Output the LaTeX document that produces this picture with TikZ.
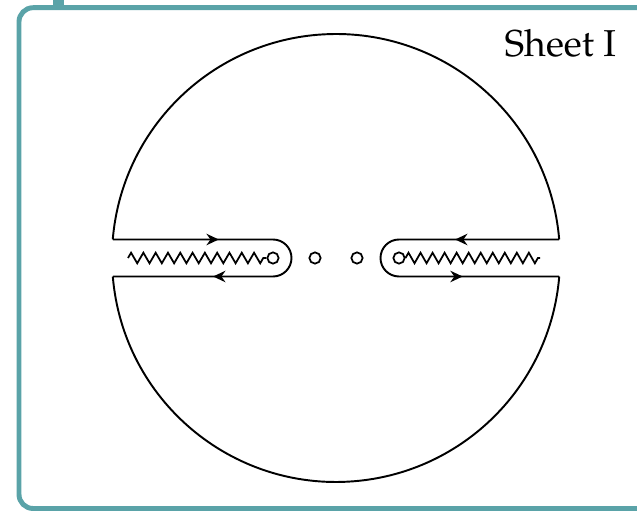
\documentclass[tikz,border=0pt]{standalone}
\usepackage[T1]{fontenc}
\usepackage{mathpazo}
\usetikzlibrary{arrows.meta, decorations.pathmorphing, decorations.markings}
\definecolor{frameteal}{RGB}{90,163,168}

\begin{document}
\begin{tikzpicture}[
      x=0.02cm, y=0.02cm,
      line width=1.1pt,
      bpt/.style={draw, circle, inner sep=0pt, minimum size=6.4pt, line width=1pt},
      cut/.style={decorate, decoration={zigzag, amplitude=3pt, segment length=#1}, line width=1pt},
      flow/.style 2 args={postaction={decorate}, decoration={markings,
        mark=at position #1 with {\arrow{Stealth[length=7pt, width=6.5pt]}},
        mark=at position #2 with {\arrow{Stealth[length=7pt, width=6.5pt]}}}}
    ]
    \useasboundingbox (0,0) rectangle (637,511);
    % frame
    \fill[frameteal] (53,503) rectangle (64,515);
    \draw[frameteal, line width=2.8pt, rounded corners=8pt] (19,2.5) rectangle (680,503.3);
    \node[anchor=base east, inner sep=0pt, font=\fontsize{21.3}{24}\selectfont] (title) at (617,454.3) {Sheet I};
    % branch points and poles
    \node[bpt] (bl) at (273,253) {};
    \node[bpt] (m1) at (315,253) {};
    \node[bpt] (m2) at (357,253) {};
    \node[bpt] (br) at (399,253) {};
    \coordinate (zl) at (128,253);
    \coordinate (zr) at (540,253);
    \draw[cut=7pt] (zl) -- (bl);
    \draw[cut=6.85pt] (br) -- (zr);
    % contour
    \draw (559.2,271.5) arc[start angle=4.74, end angle=175.26, radius=224];
    \draw (112.8,234.5) arc[start angle=184.74, end angle=355.26, radius=224];
    \draw[flow={0.28}{0.735}] (112.8,271.5) -- (273,271.5)
      arc[start angle=90, end angle=-90, radius=18.5] -- (112.8,234.5);
    \draw[flow={0.275}{0.745}] (559.2,271.5) -- (399,271.5)
      arc[start angle=90, end angle=270, radius=18.5] -- (559.2,234.5);
  \end{tikzpicture}
\end{document}
